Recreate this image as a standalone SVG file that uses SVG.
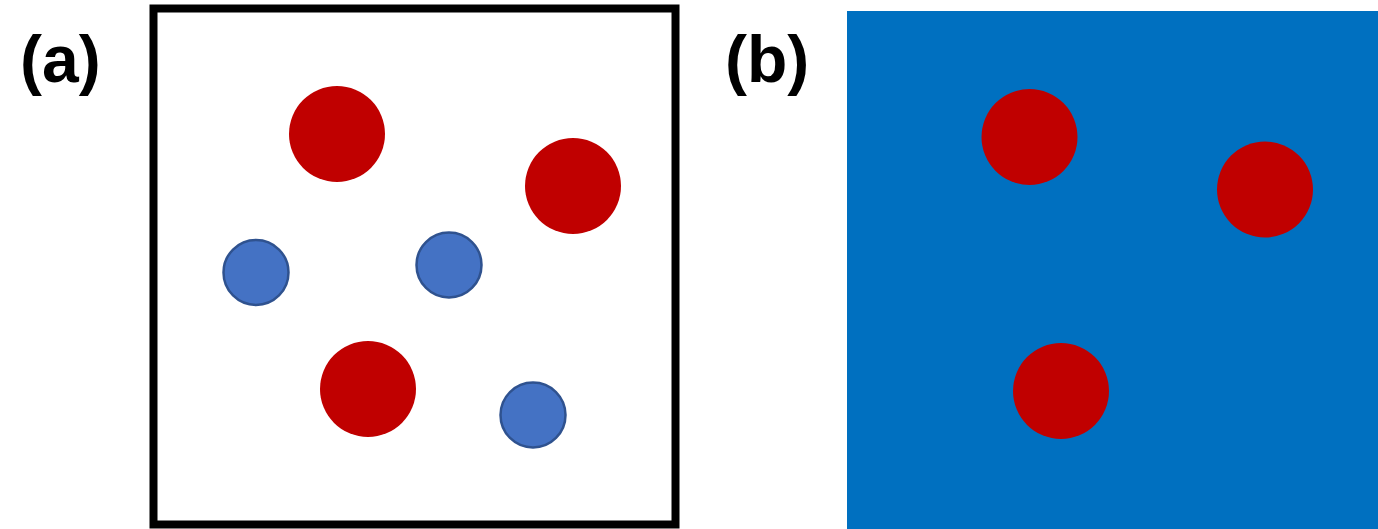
<svg xmlns="http://www.w3.org/2000/svg" width="1378" height="529" viewBox="0 0 1378 529">
<style>
.lbl{font-family:"Liberation Sans",Arial,sans-serif;font-weight:bold;font-size:66px;fill:#000}
.red{fill:#C00000}
.blue{fill:#4472C4;stroke:#2F528F;stroke-width:2.5}
</style>
<rect width="1378" height="529" fill="#fff"/>
<g id="panel-a">
<text class="lbl" x="20" y="82">(a)</text>
<rect x="153.5" y="8.5" width="522" height="516" fill="#fff" stroke="#000" stroke-width="8"/>
<circle class="red" cx="337" cy="134" r="48"/>
<circle class="red" cx="573" cy="186" r="48"/>
<circle class="red" cx="368" cy="389" r="48"/>
<circle class="blue" cx="256" cy="272.5" r="32.5"/>
<circle class="blue" cx="449" cy="265" r="32.5"/>
<circle class="blue" cx="533" cy="415" r="32.5"/>
</g>
<g id="panel-b">
<text class="lbl" x="725" y="82">(b)</text>
<rect x="847" y="11" width="531" height="518" fill="#0070C0"/>
<circle class="red" cx="1029.5" cy="137" r="48"/>
<circle class="red" cx="1265" cy="189.5" r="48"/>
<circle class="red" cx="1061" cy="391" r="48"/>
</g>
<g id="connectors"/>
</svg>
